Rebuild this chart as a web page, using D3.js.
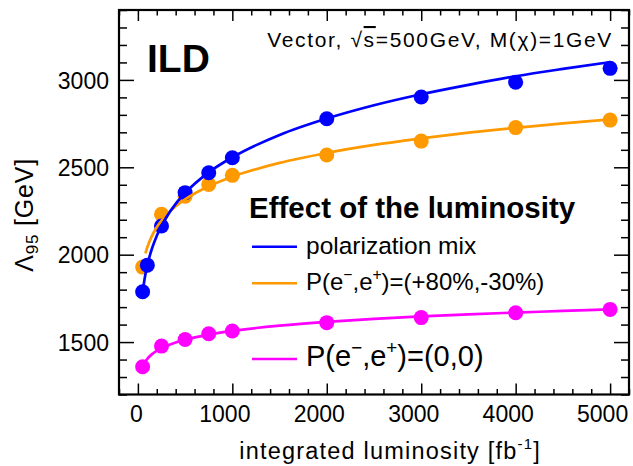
<!DOCTYPE html>
<html><head><meta charset="utf-8">
<script src="https://cdn.jsdelivr.net/npm/d3@7"></script>
<style>
body{margin:0;background:#fff;}
svg{display:block;font-family:"Liberation Sans",Arial,Helvetica,sans-serif;}
</style></head>
<body><svg id="c" width="633" height="466"></svg>
<script>
// ---- data ----
const lumiBlue = [50,100,250,500,750,1000,2000,3000,4000,5000];
const lambdaBlue = [1788,1940,2164,2355,2469,2555,2778,2902,2987,3066];
const lumiOrange = [50,250,500,750,1000,2000,3000,4000,5000];
const lambdaOrange = [1929,2231,2335,2402,2454,2570,2650,2727,2770];
const lumiPink = [50,250,500,750,1000,2000,3000,4000,5000];
const lambdaPink = [1359,1477,1515,1548,1563,1611,1640,1668,1687];
// fitted curves
const fitLumiBlue = [50,75,100,150,200,300,400,500,750,1000,1500,2000,2500,3000,3500,4000,4500,5000];
const fitBlue = [1785,1874,1940,2037,2108,2213,2291,2353,2471,2557,2685,2779,2855,2918,2972,3021,3063,3102];
const fitLumiOrange = [80,100,150,200,300,400,500,750,1000,1500,2000,2500,3000,3500,4000,4500,5000];
const fitOrange = [2008,2043,2109,2157,2226,2277,2317,2392,2446,2525,2582,2628,2665,2698,2726,2751,2774];
const fitLumiPink = [50,75,100,150,200,300,400,500,750,1000,1500,2000,2500,3000,3500,4000,4500,5000];
const fitPink = [1359,1385,1404,1431,1450,1478,1498,1514,1543,1564,1594,1616,1633,1647,1659,1669,1678,1687];
const xTicksMajor = [0,1000,2000,3000,4000,5000];
const xTicksMinor = [-200,200,400,600,800,1200,1400,1600,1800,2200,2400,2600,2800,3200,3400,3600,3800,4200,4400,4600,4800,5200];
const yTicksMajor = [1500,2000,2500,3000];
const yTicksMinor = [1200,1300,1400,1600,1700,1800,1900,2100,2200,2300,2400,2600,2700,2800,2900,3100,3200,3300,3400];
const colBlue = "#0000ff", colOrange = "#ff9900", colPink = "#ff00ff";

const svg = d3.select("#c");
const L = 119, R = 629, T = 10, B = 394.5;
const x = d3.scaleLinear().domain([-200,5200]).range([L,R]);
const y = d3.scaleLinear().domain([1200,3400]).range([B,T]);
const fmt = d3.format("d");

// axes
function ax(g, axis){ g.call(axis); g.select(".domain").remove(); g.selectAll("line").attr("stroke","#000").attr("stroke-width",1.5); }
const fs = 23;
const gb = svg.append("g").attr("transform",`translate(0,${B})`);
ax(gb, d3.axisBottom(x).tickValues(xTicksMajor).tickFormat(fmt).tickSizeInner(-11).tickSizeOuter(0).tickPadding(11));
gb.selectAll("text").attr("font-size",fs).attr("fill","#000").attr("font-family","Liberation Sans, Arial")
  .attr("dx",d=>-2*fmt(d).length);
const gbm = svg.append("g").attr("transform",`translate(0,${B})`);
ax(gbm, d3.axisBottom(x).tickValues(xTicksMinor).tickSizeInner(-5.5).tickSizeOuter(0).tickFormat(""));
const gt = svg.append("g").attr("transform",`translate(0,${T})`);
ax(gt, d3.axisTop(x).tickValues(xTicksMajor).tickSizeInner(-11).tickSizeOuter(0).tickFormat(""));
const gtm = svg.append("g").attr("transform",`translate(0,${T})`);
ax(gtm, d3.axisTop(x).tickValues(xTicksMinor).tickSizeInner(-5.5).tickSizeOuter(0).tickFormat(""));

const gl = svg.append("g").attr("transform",`translate(${L},0)`);
ax(gl, d3.axisLeft(y).tickValues(yTicksMajor).tickFormat(fmt).tickSizeInner(-15).tickSizeOuter(0).tickPadding(10));
gl.selectAll("text").attr("font-size",fs).attr("fill","#000").attr("font-family","Liberation Sans, Arial").attr("dy","0.36em");
const glm = svg.append("g").attr("transform",`translate(${L},0)`);
ax(glm, d3.axisLeft(y).tickValues(yTicksMinor).tickSizeInner(-8).tickSizeOuter(0).tickFormat(""));
const gr = svg.append("g").attr("transform",`translate(${R},0)`);
ax(gr, d3.axisRight(y).tickValues(yTicksMajor).tickSizeInner(-15).tickSizeOuter(0).tickFormat(""));
const grm = svg.append("g").attr("transform",`translate(${R},0)`);
ax(grm, d3.axisRight(y).tickValues(yTicksMinor).tickSizeInner(-8).tickSizeOuter(0).tickFormat(""));

// frame
svg.append("rect").attr("x",L).attr("y",T).attr("width",R-L).attr("height",B-T)
  .attr("fill","none").attr("stroke","#000").attr("stroke-width",2.2);

// clip
svg.append("clipPath").attr("id","clip").append("rect").attr("x",L).attr("y",T).attr("width",R-L).attr("height",B-T);
const plot = svg.append("g").attr("clip-path","url(#clip)");
const line = d3.line().x(d=>x(d[0])).y(d=>y(d[1])).curve(d3.curveMonotoneX);

const series = [
  {lx:fitLumiPink, ly:fitPink, px:lumiPink, py:lambdaPink, c:colPink},
  {lx:fitLumiOrange, ly:fitOrange, px:lumiOrange, py:lambdaOrange, c:colOrange},
  {lx:fitLumiBlue, ly:fitBlue, px:lumiBlue, py:lambdaBlue, c:colBlue}
];
series.forEach(s=>{
  plot.append("g").selectAll("circle").data(d3.zip(s.px,s.py)).join("circle")
    .attr("cx",d=>x(d[0])).attr("cy",d=>y(d[1])).attr("r",7.5).attr("fill",s.c);
});
series.forEach(s=>{
  plot.append("path").datum(d3.zip(s.lx,s.ly)).attr("d",line)
    .attr("fill","none").attr("stroke",s.c).attr("stroke-width",2.7);
});

// texts
svg.append("text").attr("x",147).attr("y",72).attr("font-size",39).attr("font-weight","bold").text("ILD");
const t1 = svg.append("text").attr("x",613).attr("y",47).attr("font-size",21).attr("letter-spacing",1.65).attr("text-anchor","end");
t1.append("tspan").text("Vector, \u221A");
t1.append("tspan").attr("text-decoration","overline").text("s");
t1.append("tspan").text("=500GeV, M(\u03C7)=1GeV");

svg.append("text").attr("x",249).attr("y",218).attr("font-size",29.5).attr("font-weight","bold").text("Effect of the luminosity");

const leg = [
  {y:246.7, ty:254, c:colBlue, fs:24.5, t:["polarization mix"]},
  {y:283.3, ty:290, c:colOrange, fs:24, t:["P(e","\u2212",",e","+",")=(+80%,-30%)"]},
  {y:359, ty:366, c:colPink, fs:29, t:["P(e","\u2212",",e","+",")=(0,0)"]}
];
leg.forEach(l=>{
  svg.append("line").attr("x1",252).attr("x2",297).attr("y1",l.y).attr("y2",l.y).attr("stroke",l.c).attr("stroke-width",2.6);
  const tx = svg.append("text").attr("x",306).attr("y",l.ty).attr("font-size",l.fs);
  l.t.forEach((s,i)=>{
    if(i===1||i===3){ tx.append("tspan").attr("font-size",l.fs*0.65).attr("dy",-l.fs*0.4).text(s); }
    else if(i===2||i===4){ tx.append("tspan").attr("dy",l.fs*0.4).text(s); }
    else tx.append("tspan").text(s);
  });
});

// axis titles
const xt = svg.append("text").attr("x",541).attr("y",459).attr("font-size",23.5).attr("letter-spacing",1.2).attr("text-anchor","end");
xt.append("tspan").text("integrated luminosity [fb");
xt.append("tspan").attr("font-size",15).attr("dy",-10).text("-1");
xt.append("tspan").attr("dy",10).text("]");
const yt = svg.append("text").attr("transform","translate(33,158) rotate(-90)").attr("font-size",25).attr("letter-spacing",0.8).attr("text-anchor","end");
yt.append("tspan").text("\u039B");
yt.append("tspan").attr("font-size",17).attr("dy",5).text("95");
yt.append("tspan").attr("dy",-5).text(" [GeV]");
</script></body></html>
